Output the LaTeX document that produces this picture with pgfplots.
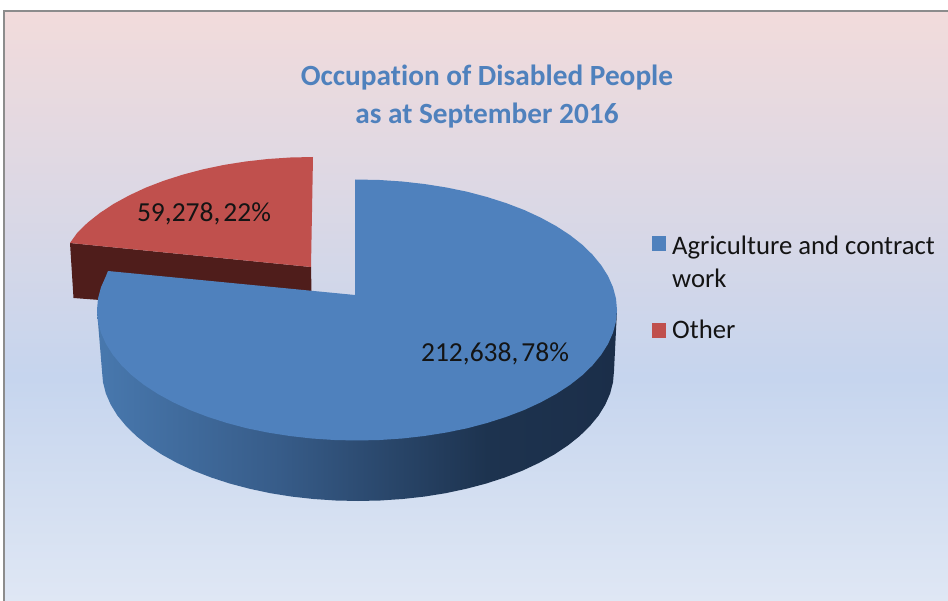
\documentclass[border=0pt]{standalone}
\usepackage{pgfplots}
\pgfplotsset{compat=1.18}
\usepackage{fontspec}
\setmainfont{Carlito}
\definecolor{pieblue}{HTML}{4F81BD}
\definecolor{piered}{HTML}{C0504D}
\definecolor{darkred}{HTML}{4F1D1B}
\definecolor{framegray}{HTML}{8C8C8C}
\definecolor{ink}{HTML}{141414}
\pgfdeclareverticalshading{chartbg}{100bp}{
  rgb(0bp)=(0.875,0.906,0.957);
  rgb(25bp)=(0.875,0.906,0.957);
  rgb(44bp)=(0.776,0.835,0.933);
  rgb(75bp)=(0.949,0.859,0.859);
  rgb(100bp)=(0.949,0.859,0.859)}
\pgfdeclarehorizontalshading{sideblue}{100bp}{
  rgb(0bp)=(0.282,0.471,0.682);
  rgb(25bp)=(0.282,0.471,0.682);
  rgb(42.5bp)=(0.216,0.361,0.537);
  rgb(62.5bp)=(0.114,0.200,0.310);
  rgb(75bp)=(0.106,0.180,0.286);
  rgb(100bp)=(0.106,0.180,0.286)}
\begin{document}
\begin{tikzpicture}
\begin{axis}[
  scale only axis, width=948pt, height=601pt,
  xmin=0, xmax=948, ymin=0, ymax=601, y dir=reverse,
  axis lines=none, clip=true,
  legend style={at={(axis cs:652,229)},anchor=north west,draw=none,fill=none,
    font=\fontsize{26.7}{33}\selectfont\color{ink},
    cells={anchor=base west},
    row sep=60pt, inner sep=0pt},
  legend image code/.code={\fill[#1] (0pt,-8pt) rectangle (14pt,7pt); \path (18pt,0pt);},
  legend cell align=left,
]
\addlegendimage{fill=pieblue,draw=none}
\addlegendentry{\begin{tabular}[t]{@{}l@{}}Agriculture and contract\\work\end{tabular}}
\addlegendimage{fill=piered,draw=none}
\addlegendentry{Other}
% page and background
\addplot[forget plot,fill=white,draw=none,no markers] coordinates {(0,0) (948,0) (948,601) (0,601)} -- cycle;
\addplot[forget plot,shade,shading=chartbg,draw=none,no markers] coordinates {(3,11) (948,11) (948,601) (3,601)} -- cycle;
\addplot[forget plot,draw=framegray,line width=2.2pt,no markers] coordinates {(3.7,601) (3.7,11.3) (948,11.3)};
% Other: side then top
\addplot[forget plot,fill=darkred,draw=none,no markers] coordinates {(70,243) (311,267) (311.5,291) (100,300) (73.5,298)} -- cycle;
\addplot[forget plot,fill=piered,draw=none,no markers] coordinates {(313,157) (290.3,157.5) (267.9,159) (245.7,161.5) (224.1,164.9) (203.1,169.3) (183,174.6) (163.9,180.7) (145.9,187.6) (129.2,195.4) (113.8,203.8) (100,212.9) (87.8,222.5) (77.4,232.6) (70,243) (311,267)} -- cycle;
% Agriculture: side then top
\addplot[forget plot,shade,shading=sideblue,draw=none,no markers] coordinates {(617,310) (614,371) (613,382.3) (610.1,393.6) (605.3,404.6) (598.6,415.5) (590,425.9) (579.7,436) (567.7,445.6) (554.1,454.6) (539,462.9) (522.6,470.6) (504.8,477.5) (486,483.6) (466.2,488.8) (445.6,493.2) (424.3,496.6) (402.5,499) (380.3,500.5) (358,501) (335.7,500.5) (313.5,499) (291.7,496.6) (270.4,493.2) (249.8,488.8) (230,483.6) (211.2,477.5) (193.4,470.6) (177,462.9) (161.9,454.6) (148.3,445.6) (136.3,436) (126,425.9) (117.4,415.5) (110.7,404.6) (105.9,393.6) (103,382.3) (102,371) (97,310)} -- cycle;
\addplot[forget plot,fill=pieblue,draw=none,no markers] coordinates {(355,179.5) (379.7,180) (402.1,181.5) (424.3,184) (445.9,187.4) (467,191.7) (487,197) (506.1,203.1) (524.2,210) (540.8,217.7) (556.2,226.1) (570,235.1) (582.2,244.7) (592.6,254.8) (601.3,265.4) (608.1,276.2) (613,287.3) (616,298.6) (617,310) (616,321.4) (613,332.7) (608.1,343.8) (601.3,354.6) (592.6,365.2) (582.2,375.3) (570,384.9) (556.2,393.9) (540.8,402.3) (524.2,410) (506.1,416.9) (487,423) (467,428.3) (445.9,432.6) (424.3,436) (402.1,438.5) (379.7,440) (357,440.5) (334.3,440) (311.9,438.5) (289.7,436) (268.1,432.6) (247,428.3) (227,423) (207.9,416.9) (189.8,410) (173.2,402.3) (157.8,393.9) (144,384.9) (131.8,375.3) (121.4,365.2) (112.7,354.6) (105.9,343.8) (101,332.7) (98,321.4) (97,310) (98,298.6) (101,287.3) (105.9,276.2) (108,271) (355,295)} -- cycle;
% texts
\node[anchor=base,font=\fontsize{29.3}{33}\selectfont\bfseries,text=pieblue] at (axis cs:487,86) {Occupat\kern0pt ion of Disabled People};
\node[anchor=base,font=\fontsize{29.3}{33}\selectfont\bfseries,text=pieblue] at (axis cs:487,124) {as at September 2016};
\node[anchor=base,font=\fontsize{27.5}{30}\selectfont,text=ink] at (axis cs:204,222) {59,278,\hspace{3pt}22\%};
\node[anchor=base,font=\fontsize{27.5}{30}\selectfont,text=ink] at (axis cs:495,362) {212,638,\hspace{3pt}78\%};
\end{axis}
\end{tikzpicture}
\end{document}
